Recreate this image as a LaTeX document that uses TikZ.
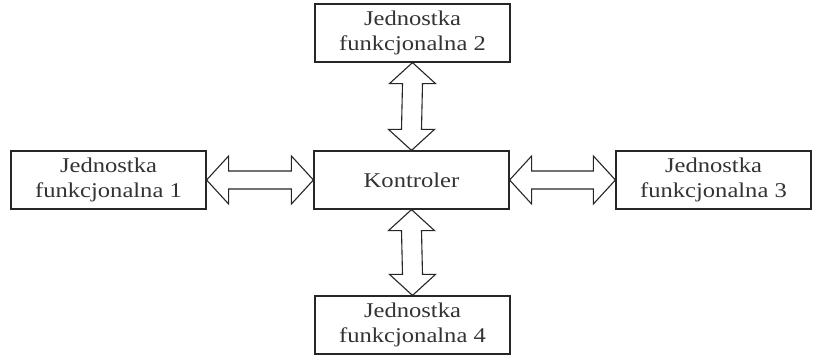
\documentclass[tikz,border=0pt]{standalone}
\usepackage{fontspec}
\setmainfont{Liberation Serif}
\newfontfamily\boxfont[FakeStretch=1.17]{Liberation Serif}
\usetikzlibrary{calc}
\tikzset{
  unit/.style={draw=black!85, line width=1.2pt, fill=white, minimum width=195pt, minimum height=58pt,
    inner sep=0pt, align=center, font=\boxfont\fontsize{21}{25}\selectfont, text=black!80},
  arr/.style={draw=black!85, line width=1.1pt, fill=white, line join=miter}
}
\newcommand\vdarrow[2]{%
  \draw[arr] (#1) -- ($(#1)+(-23,21)$) -- ($(#1)+(-10,21)$) -- ($(#2)+(-10,-21)$) -- ($(#2)+(-23,-21)$)
    -- (#2) -- ($(#2)+(23,-21)$) -- ($(#2)+(10,-21)$) -- ($(#1)+(10,21)$) -- ($(#1)+(23,21)$) -- cycle;}
\newcommand\hdarrow[2]{%
  \draw[arr] (#1) -- ($(#1)+(22,-24)$) -- ($(#1)+(22,-9)$) -- ($(#2)+(-22,-9)$) -- ($(#2)+(-22,-24)$)
    -- (#2) -- ($(#2)+(-22,24)$) -- ($(#2)+(-22,9)$) -- ($(#1)+(22,9)$) -- ($(#1)+(22,24)$) -- cycle;}
\begin{document}
\begin{tikzpicture}[x=1pt,y=-1pt]
\useasboundingbox[fill=white] (0,0) rectangle (817,361);
\node[unit] (c) at (411.5,180) {Kontroler};
\node[unit] (t) at (412.5,33) {Jednostka\\funkcjonalna 2};
\node[unit] (l) at (108.5,180) {Jednostka\\funkcjonalna 1};
\node[unit] (r) at (713.5,180) {Jednostka\\funkcjonalna 3};
\node[unit] (b) at (412.5,325) {Jednostka\\funkcjonalna 4};
\vdarrow{t.south}{c.north}
\vdarrow{c.south}{b.north}
\hdarrow{l.east}{c.west}
\hdarrow{c.east}{r.west}
\end{tikzpicture}
\end{document}
